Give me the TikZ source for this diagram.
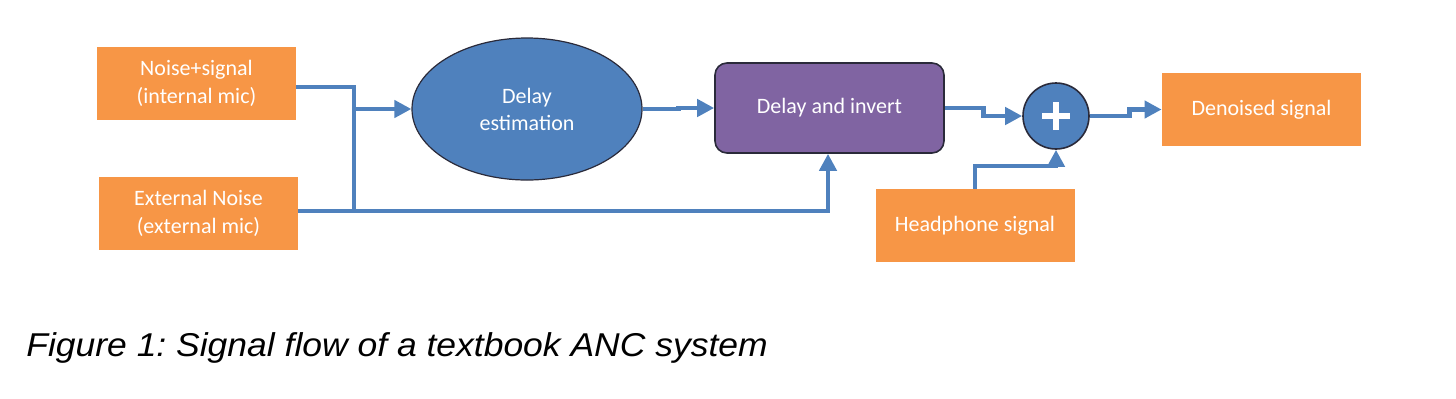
\documentclass[tikz,border=0pt]{standalone}
\usepackage{fontspec}
\setmainfont{Carlito}
\newfontfamily\capfont{Liberation Sans}
\usetikzlibrary{arrows.meta,shapes.geometric,calc}
\definecolor{org}{HTML}{F79646}
\definecolor{blu}{HTML}{4F81BD}
\definecolor{pur}{HTML}{8064A2}
\definecolor{edge}{HTML}{2A2A3A}
\begin{document}
\begin{tikzpicture}[x=0.5pt,y=-0.5pt,
  obox/.style={fill=org, text=white, minimum width=99.5pt, minimum height=36.5pt, inner sep=0pt, align=center, font=\fontsize{11}{14}\selectfont},
  wire/.style={draw=blu, line width=2.4pt},
  arr/.style={wire, -{Triangle[length=8.5pt,width=8.5pt]}},
  lbl/.style={text=white, align=center, font=\fontsize{11}{13.5}\selectfont}]
\useasboundingbox (0,0) rectangle (1456,398);
\node[obox] (b1) at (196.5,83.5) {Noise+signal\\(internal mic)};
\node[obox] (b2) at (198.5,213.5) {External Noise\\(external mic)};
\node[ellipse, fill=blu, draw=edge, line width=0.6pt, minimum width=115pt, minimum height=71pt, inner sep=0pt, lbl] (est) at (527,109) {Delay\\estimation};
\node[rectangle, rounded corners=6pt, fill=pur, draw=edge, line width=0.8pt, minimum width=114.5pt, minimum height=45pt, inner sep=0pt, lbl] (inv) at (829.5,108) {Delay and invert};
\node[circle, fill=blu, draw=edge, line width=0.8pt, minimum size=33pt, inner sep=0pt] (sum) at (1056,116) {};
\draw[white, line width=2.8pt] ([xshift=-7pt]sum.center) -- ([xshift=7pt]sum.center);
\draw[white, line width=2.8pt] ([yshift=-7pt]sum.center) -- ([yshift=7pt]sum.center);
\node[obox] (den) at (1261.5,109.5) {Denoised signal};
\node[obox] (hp) at (975,225.5) {Headphone signal};
\coordinate (jx) at (354,211);
\draw[wire] (b1.east |- 0,87) -| (jx);
\draw[arr] (jx |- est.west) -- (est.west);
\draw[arr] (b2.east |- jx) -| (inv.south -| 828,0);
\draw[arr] (est.east) -| ($(est.east)!0.5!(inv.west)$) |- (inv.west);
\draw[arr] (inv.east) -| ($(inv.east)!0.5!(sum.west)$) |- (sum.west);
\draw[arr] (sum.east) -| ($(sum.east)!0.55!(den.west)$) |- (den.west);
\draw[arr] (hp.north) -- (hp.north |- 0,166) -| (sum.south);
\node[anchor=base west, inner sep=0pt, font=\capfont\itshape\fontsize{16.5}{19}\selectfont] (cap) at (26,356) {\frenchspacing\scalebox{1.075}[1]{Figure 1: Signal flow of a textbook ANC system}};
\end{tikzpicture}
\end{document}
